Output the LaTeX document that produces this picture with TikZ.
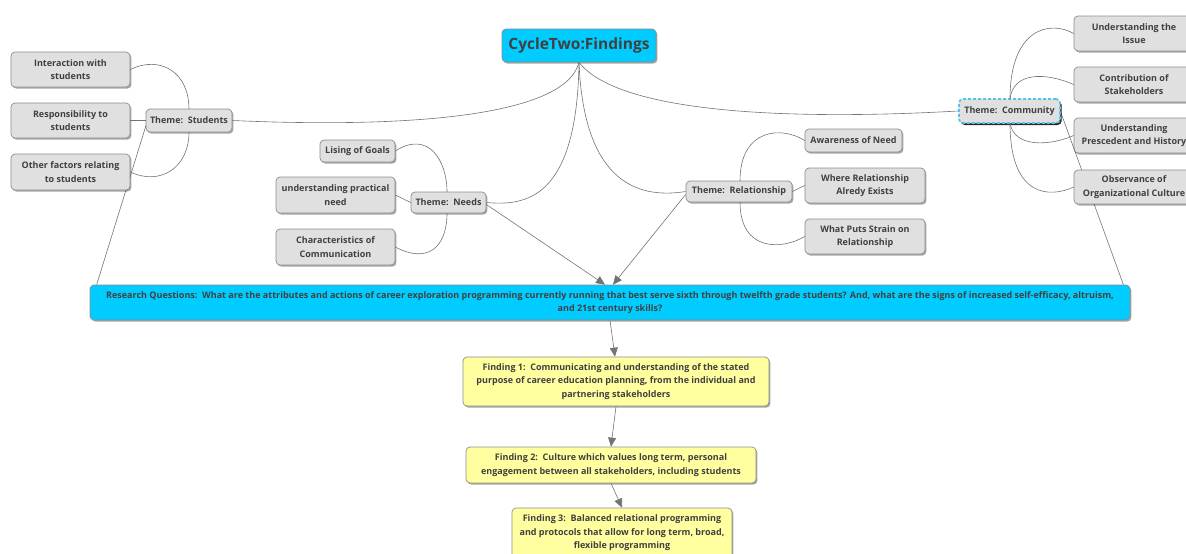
\documentclass[tikz,border=0pt]{standalone}
\usepackage{fontspec}
\setmainfont{Open Sans}
\usetikzlibrary{arrows.meta,shadows,calc}
\definecolor{txt}{RGB}{64,64,64}
\definecolor{leafgray}{RGB}{224,224,224}
\definecolor{bordergray}{RGB}{140,140,140}
\definecolor{cyanfill}{RGB}{0,204,255}
\definecolor{yellowfill}{RGB}{255,255,160}
\definecolor{linegray}{RGB}{115,115,115}
\definecolor{dashcyan}{RGB}{85,195,234}
\begin{document}
\begin{tikzpicture}[x=1pt,y=-1pt,
  base/.style={rounded corners=4pt, draw=bordergray, line width=0.7pt, align=center, text=txt,
    inner sep=1pt, font=\fontsize{9}{13.5}\selectfont\bfseries,
    drop shadow={shadow xshift=1.4pt, shadow yshift=-1.6pt, fill=black, opacity=0.35}},
  leaf/.style={base, fill=leafgray},
  topic/.style={base, fill=cyanfill},
  finding/.style={base, fill=yellowfill},
  sel/.style={base, fill=leafgray, draw=dashcyan, line width=1.7pt, dash pattern=on 3pt off 2pt,
    preaction={draw=white, line width=2.4pt, solid},
    drop shadow={shadow xshift=1.6pt, shadow yshift=-2pt, fill=black, opacity=0.8}},
  conn/.style={draw=linegray, line width=0.6pt},
  arr/.style={conn, -{Triangle[length=9pt,width=8pt]}},
]
\useasboundingbox (0,0) rectangle (1186,554);

% attachment points on the theme boxes
\coordinate (tsS) at (146,125.5);
\coordinate (tsN) at (189,109);
\coordinate (tsB) at (189,132);
\coordinate (tnN) at (447,192);
\coordinate (tnB) at (447,213);
\coordinate (trN) at (740,181);
\coordinate (trB) at (740,202);
\coordinate (tcN) at (1010,99);
\coordinate (tcB) at (1010,123);
\coordinate (tcE) at (1061,113);

% ---------- nodes ----------
\node[topic, minimum width=154pt, minimum height=33pt, font=\fontsize{15.5}{18}\selectfont\bfseries] (title) at (579,45.5) {CycleTwo:Findings};

\node[leaf, minimum width=86pt, minimum height=23pt] (ts) at (189,120.5) {Theme:\ \ Students};
\node[leaf, minimum width=75pt, minimum height=21pt] (tn) at (448.5,202.5) {Theme:\ \ Needs};
\node[leaf, minimum width=106pt, minimum height=21pt] (tr) at (739,191.5) {Theme:\ \ Relationship};

\node[leaf, minimum width=119pt, minimum height=35pt] (s1) at (70.5,69.5) {Interaction with\\students};
\node[leaf, minimum width=119pt, minimum height=35pt] (s2) at (70.5,120.5) {Responsibility to\\students};

\node[leaf, minimum width=75pt, minimum height=22pt] (n1) at (357.5,151) {Lising of Goals};
\node[leaf, minimum width=119pt, minimum height=36pt] (n2) at (335.5,195) {understanding practical\\need};
\node[leaf, minimum width=119pt, minimum height=36pt] (n3) at (335.5,247) {Characteristics of\\Communication};

\node[leaf, minimum width=97pt, minimum height=23pt] (r1) at (853.5,140.5) {Awareness of Need};
\node[leaf, minimum width=120pt, minimum height=35pt] (r2) at (865,185.5) {Where Relationship\\Alredy Exists};
\node[leaf, minimum width=120pt, minimum height=35pt] (r3) at (865,236.5) {What Puts Strain on\\Relationship};

\node[leaf, minimum width=120pt, minimum height=35pt] (c1) at (1134,33.5) {Understanding the\\Issue};
\node[leaf, minimum width=120pt, minimum height=35pt] (c2) at (1134,84.5) {Contribution of\\Stakeholders};
\node[leaf, minimum width=120pt, minimum height=35pt] (c3) at (1134,135.5) {Understanding\\Prescedent and History};

\node[topic, minimum width=1040pt, minimum height=35pt] (rq) at (610,302.5) {Research Questions:\ \ What are the attributes and actions of career exploration programming currently running that best serve sixth through twelfth grade students? And, what are the signs of increased self-efficacy, altruism,\\and 21st century skills?};

% lines that pass behind boxes drawn next
\path[conn] (tsS) -- ([xshift=7pt]rq.north west);
\path[conn] (tcE) -- ([xshift=-7pt]rq.north east);

\node[leaf, minimum width=119pt, minimum height=36pt] (s3) at (70.5,172) {Other factors relating\\to students};
\node[leaf, minimum width=120pt, minimum height=34pt] (c4) at (1134,187) {Observance of\\Organizational Culture};
\node[sel, minimum width=101pt, minimum height=24pt] (tc) at (1009.5,111) {Theme:\ \ Community};

\node[finding, minimum width=306pt, minimum height=49pt] (f1) at (616,381.5) {Finding 1:\ \ Communicating and understanding of the stated\\purpose of career education planning, from the individual and\\partnering stakeholders};
\node[finding, minimum width=290pt, minimum height=36pt] (f2) at (611,465) {Finding 2:\ \ Culture which values long term, personal\\engagement between all stakeholders, including students};
\node[finding, minimum width=220pt, minimum height=50pt] (f3) at (622,533) {Finding 3:\ \ Balanced relational programming\\and protocols that allow for long term, broad,\\flexible programming};

% title to themes
\path[conn] (title.south) .. controls (565,118) and (400,128) .. (ts.east);
\path[conn] (title.south) .. controls (577,200) and (525,206) .. (tn.east);
\path[conn] (title.south) .. controls (584,190) and (645,198) .. (tr.west);
\path[conn] (title.south) .. controls (620,115) and (800,120) .. (tc.west);

% students
\path[conn] (s1.east) .. controls (160,55) and (189,72) .. (tsN);
\path[conn] (s2.east) -- (ts.west);
\path[conn] (s3.east) .. controls (160,186) and (189,168) .. (tsB);

% needs
\path[conn] (n1.east) .. controls (428,130) and (447,160) .. (tnN);
\path[conn] (n2.east) -- (tn.west);
\path[conn] (n3.east) .. controls (427,264) and (447,248) .. (tnB);

% relationship
\path[conn] (trN) .. controls (740,128) and (782,126) .. (r1.west);
\path[conn] (tr.east) -- (r2.west);
\path[conn] (trB) .. controls (740,252) and (782,250) .. (r3.west);

% community
\path[conn] (tcN) .. controls (1010,28) and (1050,20) .. (c1.west);
\path[conn] (tcN) .. controls (1013,72) and (1045,72) .. (c2.west);
\path[conn] (tcB) .. controls (1014,148) and (1050,146) .. (c3.west);
\path[conn] (tcB) .. controls (1010,198) and (1050,198) .. (c4.west);

% arrows to research questions and findings
\draw[arr] ([yshift=-2pt]tn.east) -- ([xshift=-5pt]rq.north);
\draw[arr] ([yshift=-3pt]tr.west) -- ([xshift=3pt]rq.north);
\draw[arr] (rq.south) -- ([xshift=-1pt]f1.north);
\draw[arr] (f1.south) -- (f2.north);
\draw[arr] (f2.south) -- (f3.north);
\end{tikzpicture}
\end{document}
